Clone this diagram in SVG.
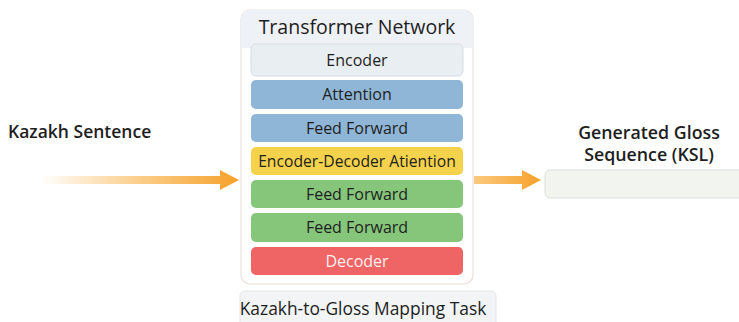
<svg xmlns="http://www.w3.org/2000/svg" width="739" height="322" viewBox="0 0 739 322">
<defs>
<linearGradient id="gl" x1="0" y1="0" x2="1" y2="0">
<stop offset="0" stop-color="#f7a52a" stop-opacity="0"/>
<stop offset="0.5" stop-color="#f7a52a" stop-opacity="0.55"/>
<stop offset="1" stop-color="#f7a02a"/>
</linearGradient>
<linearGradient id="gr" x1="0" y1="0" x2="1" y2="0">
<stop offset="0" stop-color="#f7a52a" stop-opacity="0.6"/>
<stop offset="1" stop-color="#f7a02a"/>
</linearGradient>
</defs>
<style>
text{font-family:"Open Sans","Noto Sans","Liberation Sans",sans-serif;text-anchor:middle;fill:#1e1e1e}
.lbl{font-size:16px}
</style>
<rect width="739" height="322" fill="#ffffff"/>
<g id="container">
<rect x="241" y="10" width="232" height="274" rx="9" fill="#ffffff" stroke="#eadfdc" stroke-width="1.2"/>
<path d="M241,48 V19 a9,9 0 0 1 9,-9 H464 a9,9 0 0 1 9,9 V48 Z" fill="#eef1f5"/>
<text x="357" y="34" style="font-size:19.5px">Transformer Network</text>
</g>
<g id="encoder">
<rect x="251" y="44" width="212" height="32" rx="5" fill="#e9eef3" stroke="#d5dde4"/>
<text class="lbl" x="357" y="66">Encoder</text>
</g>
<g id="attention">
<rect x="251" y="80" width="212" height="29" rx="5" fill="#8fb6d6"/>
<text class="lbl" x="357" y="100">Attention</text>
</g>
<g id="ff1">
<rect x="251" y="114" width="212" height="28" rx="5" fill="#8fb6d6"/>
<text class="lbl" x="357" y="134">Feed Forward</text>
</g>
<g id="encdec">
<rect x="251" y="147" width="212" height="28" rx="5" fill="#f5d24c"/>
<text x="357" y="167" style="font-size:15.7px">Encoder-Decoder Atiention</text>
</g>
<g id="ff2">
<rect x="251" y="180" width="212" height="28" rx="5" fill="#86c67b"/>
<text class="lbl" x="357" y="200">Feed Forward</text>
</g>
<g id="ff3">
<rect x="251" y="213" width="212" height="29" rx="5" fill="#86c67b"/>
<text class="lbl" x="357" y="233">Feed Forward</text>
</g>
<g id="decoder">
<rect x="251" y="247" width="212" height="28" rx="5" fill="#ef6464"/>
<text class="lbl" x="357" y="267" style="fill:#fff0f0">Decoder</text>
</g>
<g id="task">
<rect x="240" y="291" width="256" height="36" rx="5" fill="#f3f4f5" stroke="#e3e5e8"/>
<text x="363" y="315" style="font-size:17.4px">Kazakh-to-Gloss Mapping Task</text>
</g>
<g id="input">
<text x="8" y="138" style="text-anchor:start;font-weight:600;font-size:17.5px">Kazakh Sentence</text>
</g>
<g id="output">
<text x="649" y="139" style="font-weight:600;font-size:17.8px">Generated Gloss</text>
<text x="649" y="161" style="font-weight:600;font-size:17.8px">Sequence (KSL)</text>
<rect x="545" y="170" width="210" height="28" rx="5" fill="#f2f4f0" stroke="#dcdfd9"/>
</g>
<g id="connectors">
<path d="M40,176 H220 V170 L239,180 L220,190 V184 H40 Z" fill="url(#gl)"/>
<path d="M474,176 H522 V170 L541,180 L522,190 V184 H474 Z" fill="url(#gr)"/>
</g>
</svg>
